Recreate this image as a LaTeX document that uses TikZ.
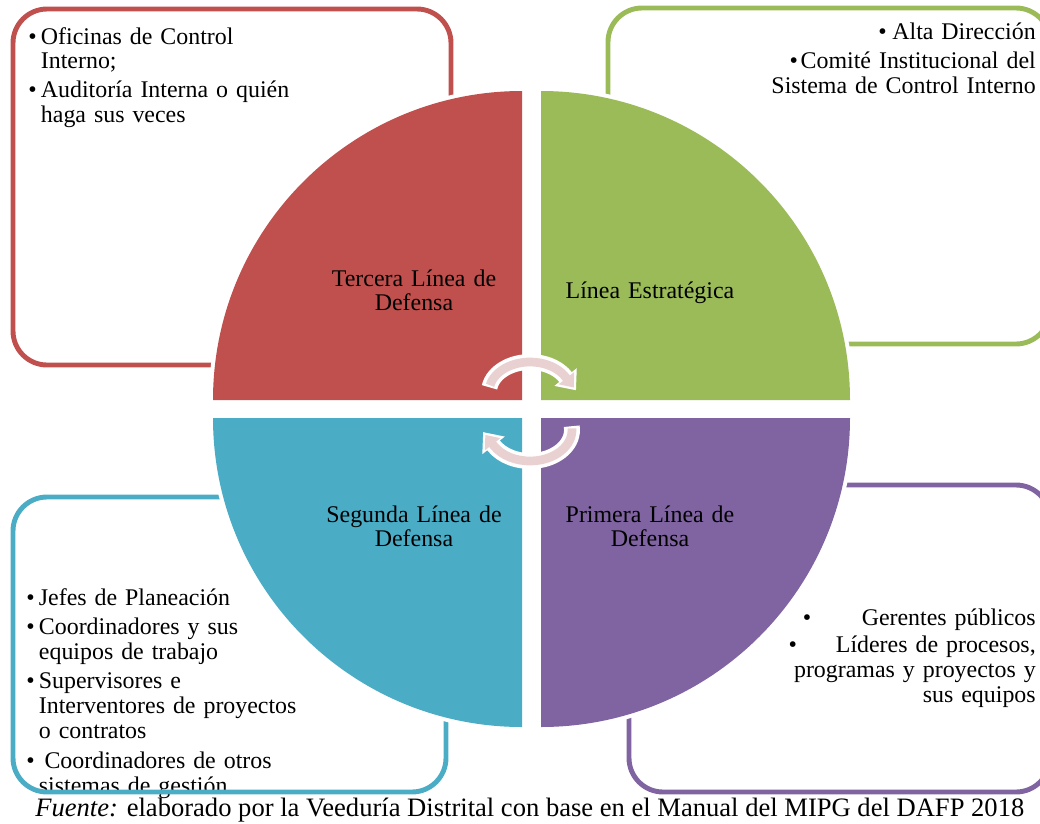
\documentclass[tikz,border=0pt]{standalone}
\usepackage{fontspec}
\setmainfont{Liberation Serif}
\usetikzlibrary{arrows.meta}
\definecolor{rojo}{HTML}{C0504D}
\definecolor{verde}{HTML}{9BBB59}
\definecolor{azul}{HTML}{4BACC6}
\definecolor{morado}{HTML}{8064A2}
\definecolor{rosa}{HTML}{EAD1D1}
\newcommand{\lbul}{\makebox[9pt][l]{\textbullet}}
\newcommand{\lind}{\hspace*{9pt}}

\begin{document}
\begin{tikzpicture}[x=0.025cm,y=-0.025cm]

\tikzset{caja/.style = {line width=3.5pt, rounded corners=0.85cm}}
\tikzset{texto/.style = {font=\fontsize{17pt}{17.7pt}\selectfont, inner sep=0pt, text width=9cm}}
\tikzset{flechablanca/.style = {white, line width=11.3pt, -{Triangle[length=12pt,width=19.5pt]}}}
\tikzset{flecharosa/.style = {rosa, line width=6.2pt, -{Triangle[length=8.5pt,width=13.5pt]}, shorten >=2.5pt}}
\useasboundingbox (0,0) rectangle (1040,823);
\clip (0,0) rectangle (1040,823);
%listas
\node[texto, align=left, anchor=base west] (tercera) at (28,44)
  {\lbul Oficinas de Control\\\lind Interno;\\[2.8pt]\lbul Auditoría Interna o quién\\\lind haga sus veces};
\node[texto, align=right, anchor=base east] (estrategica) at (1036,39)
  {\textbullet\hspace{4pt}Alta Dirección\\[3.5pt]\textbullet\hspace{2pt}Comité Institucional del\\Sistema de Control Interno};
\node[texto, align=left, anchor=base west] (segunda) at (26,605)
  {\lbul Jefes de Planeación\\[3.2pt]\lbul Coordinadores y sus\\\lind equipos de trabajo\\[3.2pt]\lbul Supervisores e\\\lind Interventores de proyectos\\\lind o contratos\\[3.5pt]\lbul\hspace{4pt}Coordinadores de otros\\\lind sistemas de gestión};
\node[texto, align=right, anchor=base east] (primera) at (1036,625)
  {\textbullet\hspace{36pt}Gerentes públicos\\[2pt]\textbullet\hspace{27.6pt}Líderes de procesos,\\programas y proyectos y\\sus equipos};
%cajas
\draw[caja, rojo] (13,9) rectangle (451,365);
\draw[caja, verde] (608,8) rectangle (1050,344);
\draw[caja, azul] (13,497) rectangle (446,792);
\draw[caja, morado] (629,485) rectangle (1050,792);
%cuartos del circulo
\foreach \cx/\cy/\a/\c in {522/400/180/rojo, 541/400/270/verde, 522/418/90/azul, 541/418/0/morado} {
  \draw[white, line width=5.7pt] (\cx,\cy) ++(\a:309) arc[start angle=\a, end angle=\a+90, radius=309];
  \fill[\c] (\cx,\cy) -- ++(\a:309) arc[start angle=\a, end angle=\a+90, radius=309] -- cycle;
}
\node[texto, text width=6cm, align=center, anchor=base] (t3) at (414,286) {Tercera Línea de\\Defensa};
\node[texto, text width=6cm, align=center, anchor=base] (le) at (650,298) {Línea Estratégica};
\node[texto, text width=6cm, align=center, anchor=base] (t2) at (414,522) {Segunda Línea de\\Defensa};
\node[texto, text width=6cm, align=center, anchor=base] (t1) at (650,522) {Primera Línea de\\Defensa};
%flechas
\draw[flechablanca] (530,392) ++(189:41 and 30) arc[start angle=189, end angle=330, x radius=41, y radius=30] -- ++(10.5,13.3);
\draw[flecharosa] (530,392) ++(193:41 and 30) arc[start angle=193, end angle=330, x radius=41, y radius=30] -- ++(10.5,13.3);
\draw[flechablanca] (530,430) ++(-7:42 and 31) arc[start angle=-7, end angle=150, x radius=42, y radius=31] -- ++(-10.5,-13.4);
\draw[flecharosa] (530,430) ++(-3:42 and 31) arc[start angle=-3, end angle=150, x radius=42, y radius=31] -- ++(-10.5,-13.4);
%fuente
\node[font=\fontsize{18.9pt}{19.5pt}\selectfont, inner sep=0pt, anchor=base west] (fuente) at (35,816)
  {\textit{Fuente:} elaborado por la Veeduría Distrital con base en el Manual del MIPG del DAFP 2018};

\end{tikzpicture}
\end{document}
